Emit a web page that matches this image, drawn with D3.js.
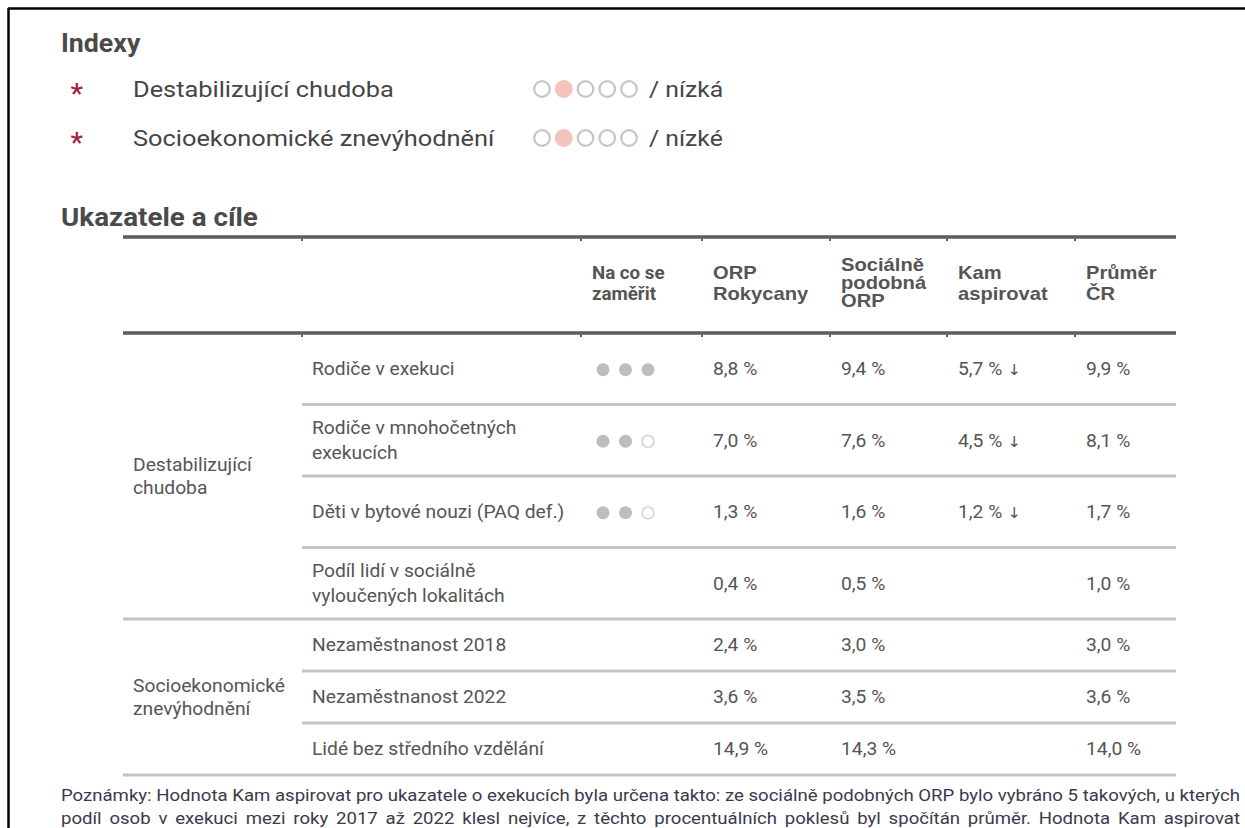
<!DOCTYPE html>
<html>
<head>
<meta charset="utf-8">
<script src="https://cdn.jsdelivr.net/npm/d3@7"></script>
<style>
  html, body { margin: 0; padding: 0; background: #fff; }
  svg { display: block; }
</style>
</head>
<body>
<script>
// ---------------- DATA ----------------
const indexNames = ["Destabilizující chudoba", "Socioekonomické znevýhodnění"];
const indexLevels = [2, 2];            // which of the 5 circles is filled
const indexLevelLabels = ["nízká", "nízké"];

const groupNames = [["Destabilizující", "chudoba"], ["Socioekonomické", "znevýhodnění"]];
const indicators = [
  ["Rodiče v exekuci"],
  ["Rodiče v mnohočetných", "exekucích"],
  ["Děti v bytové nouzi (PAQ def.)"],
  ["Podíl lidí v sociálně", "vyloučených lokalitách"],
  ["Nezaměstnanost 2018"],
  ["Nezaměstnanost 2022"],
  ["Lidé bez středního vzdělání"]
];
const indicatorGroup = [0, 0, 0, 0, 1, 1, 1];
const focusDots = [3, 2, 2, null, null, null, null];   // filled dots out of 3 (null = not shown)
const orpValues = [8.8, 7.0, 1.3, 0.4, 2.4, 3.6, 14.9];
const similarValues = [9.4, 7.6, 1.6, 0.5, 3.0, 3.5, 14.3];
const aspireValues = [5.7, 4.5, 1.2, null, null, null, null];
const czValues = [9.9, 8.1, 1.7, 1.0, 3.0, 3.6, 14.0];

const columnKeys = ["focus", "orp", "similar", "aspire", "cz"];
const columnHeaders = [["Na co se", "zaměřit"], ["ORP", "Rokycany"], ["Sociálně", "podobná", "ORP"], ["Kam", "aspirovat"], ["Průměr", "ČR"]];

const noteLines = [
  "Poznámky: Hodnota Kam aspirovat pro ukazatele o exekucích byla určena takto: ze sociálně podobných ORP bylo vybráno 5 takových, u kterých",
  "podíl osob v exekuci mezi roky 2017 až 2022 klesl nejvíce, z těchto procentuálních poklesů byl spočítán průměr. Hodnota Kam aspirovat"
];

// ---------------- LAYOUT ----------------
const W = 1245, H = 828;
const svg = d3.select("body").append("svg").attr("width", W).attr("height", H);

const cs = d3.formatLocale({decimal: ",", thousands: " ", grouping: [3], currency: ["", " Kč"]});
const fmt = v => cs.format(".1f")(v) + " %";

const sans = "Roboto, 'Noto Sans', sans-serif";
const hdrFont = "'Liberation Sans', Arial, sans-serif";

// text helper: multi-line text centred on y (or baseline when centre=false), stretched horizontally by sx
function addText(parent, x, y, lines, o) {
  const t = parent.append("text")
    .attr("transform", `translate(${x},${y}) scale(${o.sx || 1},1)`)
    .attr("font-family", o.family || sans)
    .attr("font-weight", o.weight || 400)
    .attr("font-size", o.size)
    .attr("fill", o.fill || "#555");
  const n = lines.length;
  t.selectAll("tspan").data(lines).join("tspan")
    .attr("x", 0)
    .attr("y", (l, j) => (j - (n - 1) / 2) * (o.lh || 0))
    .attr("dy", o.centre === false ? 0 : "0.35em")
    .text(l => l);
  return t;
}

// frame
svg.append("line").attr("x1", 8).attr("x2", W).attr("y1", 8.5).attr("y2", 8.5).attr("stroke", "#000").attr("stroke-width", 2.5);
svg.append("line").attr("x1", 8.5).attr("x2", 8.5).attr("y1", 8).attr("y2", H).attr("stroke", "#000").attr("stroke-width", 2.5);

// ---- Indexy section ----
addText(svg, 61, 52, ["Indexy"], {size: 25, weight: 700, fill: "#4a4a4a", sx: 1.07, centre: false});

const idxY = d3.scalePoint().domain(d3.range(indexNames.length)).range([97, 146]);
const circX = d3.scalePoint().domain(d3.range(5)).range([542, 629]);

const idxRows = svg.append("g").selectAll("g").data(indexNames).join("g")
  .attr("transform", (d, i) => `translate(0,${idxY(i)})`);
idxRows.each(function(d, i) {
  const g = d3.select(this);
  addText(g, 70.5, 6, ["*"], {size: 28, weight: 500, fill: "#a3223f", centre: false});
  addText(g, 133, 0, [d], {size: 21.5, fill: "#454545", sx: 1.18, centre: false});
  g.selectAll("circle").data(d3.range(5)).join("circle")
    .attr("cx", k => circX(k)).attr("cy", -8)
    .attr("r", k => k + 1 === indexLevels[i] ? 9 : 7.8)
    .attr("fill", k => k + 1 === indexLevels[i] ? "#f4c3bb" : "none")
    .attr("stroke", k => k + 1 === indexLevels[i] ? "none" : "#c6c6c6")
    .attr("stroke-width", 2.2);
  addText(g, 649, 0, ["/ " + indexLevelLabels[i]], {size: 21.5, fill: "#454545", sx: 1.15, centre: false});
});

// ---- Ukazatele a cíle ----
addText(svg, 61, 226, ["Ukazatele a cíle"], {size: 25.5, weight: 700, fill: "#4a4a4a", sx: 1.09, centre: false});

const tableLeft = 123, tableRight = 1176, labelLeft = 302;
const headTop = 237, headBottom = 333;
const groupRanges = [[headBottom, 619], [619, 775]];

const colX = d3.scaleOrdinal().domain(columnKeys).range([581, 702, 830, 947, 1075]);
const boundaries = [labelLeft, ...columnKeys.map(k => colX(k))];

// row scales per group
const rowScales = groupRanges.map((r, g) =>
  d3.scaleBand().domain(d3.range(indicators.length).filter(i => indicatorGroup[i] === g)).range(r));
const rowTop = i => rowScales[indicatorGroup[i]](i);
const rowMid = i => rowTop(i) + rowScales[indicatorGroup[i]].bandwidth() / 2;

// header lines
const thick = svg.append("g");
[headTop, headBottom].forEach(y => {
  thick.append("line").attr("x1", tableLeft).attr("x2", tableRight).attr("y1", y).attr("y2", y)
    .attr("stroke", "#5c5c5c").attr("stroke-width", 3.5);
  thick.selectAll(null).data(boundaries).join("line")
    .attr("x1", d => d).attr("x2", d => d).attr("y1", y + 1.5).attr("y2", y + 4)
    .attr("stroke", "#5c5c5c").attr("stroke-width", 2);
});

// header texts
const hdrG = svg.append("g");
columnKeys.forEach((k, i) => {
  const lines = columnHeaders[i];
  addText(hdrG, colX(k) + 11, 283, lines, i === 0
    ? {size: 18, weight: 700, family: sans, sx: 1.04, lh: 21}
    : {size: 18, weight: 700, family: hdrFont, sx: 1.12, lh: lines.length > 2 ? 18 : 21});
});

// row separators
const sepColor = "#c4c4c4";
const seps = svg.append("g");
indicators.forEach((d, i) => {
  if (i === 0) return;
  const full = indicatorGroup[i] !== indicatorGroup[i - 1];
  seps.append("line").attr("x1", full ? tableLeft : labelLeft).attr("x2", tableRight)
    .attr("y1", rowTop(i)).attr("y2", rowTop(i)).attr("stroke", sepColor).attr("stroke-width", 3);
});
seps.append("line").attr("x1", tableLeft).attr("x2", tableRight)
  .attr("y1", groupRanges[1][1]).attr("y2", groupRanges[1][1]).attr("stroke", sepColor).attr("stroke-width", 3);

// group labels
const body = {size: 18, fill: "#555", sx: 1.07};
const grpG = svg.append("g");
groupNames.forEach((lines, g) => {
  addText(grpG, 133, (groupRanges[g][0] + groupRanges[g][1]) / 2, lines, {...body, lh: 23});
});

// row labels
const rowG = svg.append("g");
indicators.forEach((lines, i) => addText(rowG, 312, rowMid(i), lines, {...body, lh: 24.5}));

// focus dots
const dotX = d3.scalePoint().domain([0, 1, 2]).range([colX("focus") + 22, colX("focus") + 67]);
const dotG = svg.append("g");
focusDots.forEach((n, i) => {
  if (n == null) return;
  dotG.append("g").selectAll("circle").data([0, 1, 2]).join("circle")
    .attr("cx", k => dotX(k)).attr("cy", rowMid(i) + 1)
    .attr("r", k => k < n ? 6.5 : 6)
    .attr("fill", k => k < n ? "#bdbdbd" : "none")
    .attr("stroke", k => k < n ? "none" : "#c8c8c8")
    .attr("stroke-width", 1.2);
});

// values
const valueCols = [["orp", orpValues, false], ["similar", similarValues, false], ["aspire", aspireValues, true], ["cz", czValues, false]];
const valG = svg.append("g");
valueCols.forEach(([key, arr, arrow]) => {
  arr.forEach((v, i) => {
    if (v == null) return;
    const t = addText(valG, colX(key) + 11, rowMid(i), [fmt(v)], body);
    if (arrow) t.select("tspan").append("tspan").attr("font-family", "'DejaVu Sans', sans-serif").attr("font-size", 15).text(" ↓");
  });
});

// notes (justified)
const notes = svg.append("g");
const noteLeft = 61, noteRight = 1240, noteSize = 17;
const t0 = notes.append("text").attr("font-family", sans).attr("font-size", noteSize).text(noteLines[0]);
const noteSx = (noteRight - noteLeft) / t0.node().getComputedTextLength();
t0.remove();
noteLines.forEach((line, j) => {
  const t = addText(notes, noteLeft, 801 + j * 22.5, [line], {size: noteSize, fill: "#3a3a4c", sx: noteSx, centre: false});
  const w = t.node().getComputedTextLength() * noteSx;
  const spaces = (line.match(/ /g) || []).length;
  t.attr("word-spacing", Math.max(0, (noteRight - noteLeft - w) / spaces / noteSx));
});
</script>
</body>
</html>
